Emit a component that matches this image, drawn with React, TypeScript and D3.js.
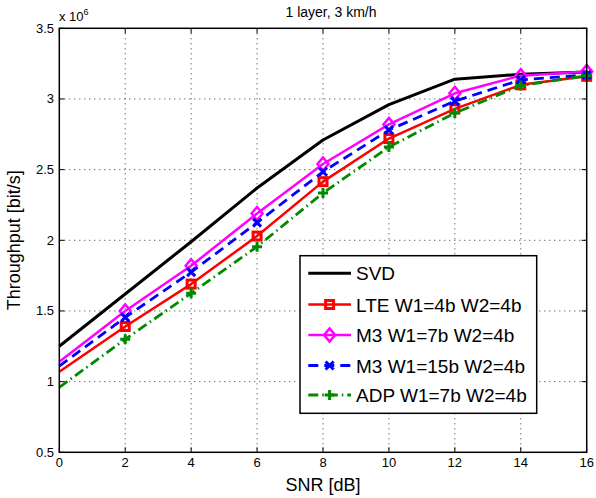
import React, { useEffect, useRef } from 'react';
import * as d3 from 'd3';

const snr = [0, 2, 4, 6, 8, 10, 12, 14, 16];
const svd = [1.25, 1.62, 1.99, 2.37, 2.71, 2.96, 3.14, 3.175, 3.19];
const lte = [1.07, 1.39, 1.69, 2.03, 2.415, 2.72, 2.93, 3.1, 3.16];
const m3w7 = [1.14, 1.5, 1.82, 2.19, 2.54, 2.82, 3.04, 3.165, 3.195];
const m3w15 = [1.11, 1.455, 1.775, 2.125, 2.485, 2.78, 2.985, 3.135, 3.17];
const adp = [0.96, 1.3, 1.625, 1.955, 2.335, 2.66, 2.9, 3.095, 3.165];

const xTicks = [0, 2, 4, 6, 8, 10, 12, 14, 16];
const yTicks = [0.5, 1, 1.5, 2, 2.5, 3, 3.5];

const seriesNames = ['SVD', 'LTE W1=4b W2=4b', 'M3 W1=7b W2=4b', 'M3 W1=15b W2=4b', 'ADP W1=7b W2=4b'];

const FONT = 'Liberation Sans, Arial, Helvetica, sans-serif';

const styles = [
  { color: '#000000', dash: null, marker: 'none', width: 3 },
  { color: '#ff0000', dash: null, marker: 'square', width: 2.5 },
  { color: '#ff00ff', dash: null, marker: 'diamond', width: 2.5 },
  { color: '#0000ff', dash: '10,6', marker: 'x', width: 2.8 },
  { color: '#008a00', dash: '10,4,1.5,4', marker: 'plus', width: 2.8 },
];

function drawMarker(g, kind, x, y, color) {
  if (kind === 'square') {
    g.append('rect').attr('x', x - 4).attr('y', y - 4).attr('width', 8).attr('height', 8)
      .attr('fill', 'none').attr('stroke', color).attr('stroke-width', 3);
  } else if (kind === 'diamond') {
    g.append('path').attr('d', `M${x},${y - 6.5}L${x + 5.5},${y}L${x},${y + 6.5}L${x - 5.5},${y}Z`)
      .attr('fill', 'none').attr('stroke', color).attr('stroke-width', 2.5);
  } else if (kind === 'x') {
    g.append('path').attr('d', `M${x - 4},${y - 4}L${x + 4},${y + 4}M${x - 4},${y + 4}L${x + 4},${y - 4}`)
      .attr('stroke', color).attr('stroke-width', 3);
  } else if (kind === 'plus') {
    g.append('path').attr('d', `M${x - 5},${y}L${x + 5},${y}M${x},${y - 5}L${x},${y + 5}`)
      .attr('stroke', color).attr('stroke-width', 3);
  }
}

export default function App() {
  const ref = useRef(null);

  useEffect(() => {
    const svg = d3.select(ref.current);
    svg.selectAll('*').remove();

    const left = 59.3, right = 586.7, top = 28.3, bottom = 452.3;
    const x = d3.scaleLinear().domain([0, 16]).range([left, right]);
    const y = d3.scaleLinear().domain([0.5, 3.5]).range([bottom, top]);

    svg.append('rect').attr('width', 596).attr('height', 498).attr('fill', '#fff');

    // grid
    const grid = svg.append('g').attr('stroke', '#333').attr('stroke-width', 1).attr('stroke-dasharray', '1,4');
    xTicks.slice(1, -1).forEach((t) => {
      grid.append('line').attr('x1', x(t)).attr('x2', x(t)).attr('y1', top).attr('y2', bottom);
    });
    yTicks.slice(1, -1).forEach((t) => {
      grid.append('line').attr('y1', y(t)).attr('y2', y(t)).attr('x1', left).attr('x2', right);
    });

    // inward ticks
    const ticks = svg.append('g').attr('stroke', '#000').attr('stroke-width', 1);
    xTicks.forEach((t) => {
      ticks.append('line').attr('x1', x(t)).attr('x2', x(t)).attr('y1', bottom).attr('y2', bottom - 5);
      ticks.append('line').attr('x1', x(t)).attr('x2', x(t)).attr('y1', top).attr('y2', top + 5);
    });
    yTicks.forEach((t) => {
      ticks.append('line').attr('y1', y(t)).attr('y2', y(t)).attr('x1', left).attr('x2', left + 5);
      ticks.append('line').attr('y1', y(t)).attr('y2', y(t)).attr('x1', right).attr('x2', right - 5);
    });

    // series
    const allSeries = [svd, lte, m3w7, m3w15, adp];
    const line = d3.line().x((d) => x(d[0])).y((d) => y(d[1]));
    const plot = svg.append('g');
    allSeries.forEach((vals, i) => {
      const st = styles[i];
      const pts = snr.map((s, j) => [s, vals[j]]);
      plot.append('path').attr('d', line(pts)).attr('fill', 'none')
        .attr('stroke', st.color).attr('stroke-width', st.width)
        .attr('stroke-dasharray', st.dash).attr('stroke-linejoin', 'round');
      pts.forEach((p) => {
        if (p[0] > 0) drawMarker(plot, st.marker, x(p[0]), y(p[1]), st.color);
      });
    });

    // box
    svg.append('rect').attr('x', left).attr('y', top).attr('width', right - left).attr('height', bottom - top)
      .attr('fill', 'none').attr('stroke', '#000').attr('stroke-width', 1.5);

    // tick labels
    xTicks.forEach((t) => {
      svg.append('text').attr('x', x(t)).attr('y', 467).attr('text-anchor', 'middle')
        .attr('font-family', FONT).attr('font-size', 13).text(t);
    });
    yTicks.forEach((t) => {
      svg.append('text').attr('x', 54).attr('y', y(t) + 4.5).attr('text-anchor', 'end')
        .attr('font-family', FONT).attr('font-size', 13).text(t);
    });

    // exponent
    const ex = svg.append('text').attr('x', 59).attr('y', 21).attr('font-family', FONT).attr('font-size', 13);
    ex.append('tspan').text('x 10');
    ex.append('tspan').attr('dy', -6).attr('font-size', 9).text('6');

    // title & labels
    svg.append('text').attr('x', 331).attr('y', 17).attr('text-anchor', 'middle')
      .attr('font-family', FONT).attr('font-size', 14).text('1 layer, 3 km/h');
    svg.append('text').attr('x', (left + right) / 2).attr('y', 491).attr('text-anchor', 'middle')
      .attr('font-family', FONT).attr('font-size', 18).text('SNR [dB]');
    svg.append('text').attr('transform', `translate(20,${(top + bottom) / 2}) rotate(-90)`)
      .attr('text-anchor', 'middle').attr('font-family', FONT).attr('font-size', 18).text('Throughput [bit/s]');

    // legend
    const lg = svg.append('g');
    lg.append('rect').attr('x', 300).attr('y', 255.7).attr('width', 236.7).attr('height', 157.6)
      .attr('fill', '#fff').attr('stroke', '#000').attr('stroke-width', 1.5);
    const rows = [273.3, 304.5, 335, 365.5, 395];
    seriesNames.forEach((name, i) => {
      const st = styles[i];
      const ry = rows[i];
      lg.append('line').attr('x1', 308.3).attr('x2', 351).attr('y1', ry).attr('y2', ry)
        .attr('stroke', st.color).attr('stroke-width', st.width).attr('stroke-dasharray', st.dash);
      drawMarker(lg, st.marker, 329.6, ry, st.color);
      lg.append('text').attr('x', 356).attr('y', ry + 7).attr('font-family', FONT)
        .attr('font-size', 19).text(name);
    });
  }, []);

  return <svg ref={ref} width={596} height={498} style={{ position: 'absolute', left: 0, top: 0 }} />;
}
